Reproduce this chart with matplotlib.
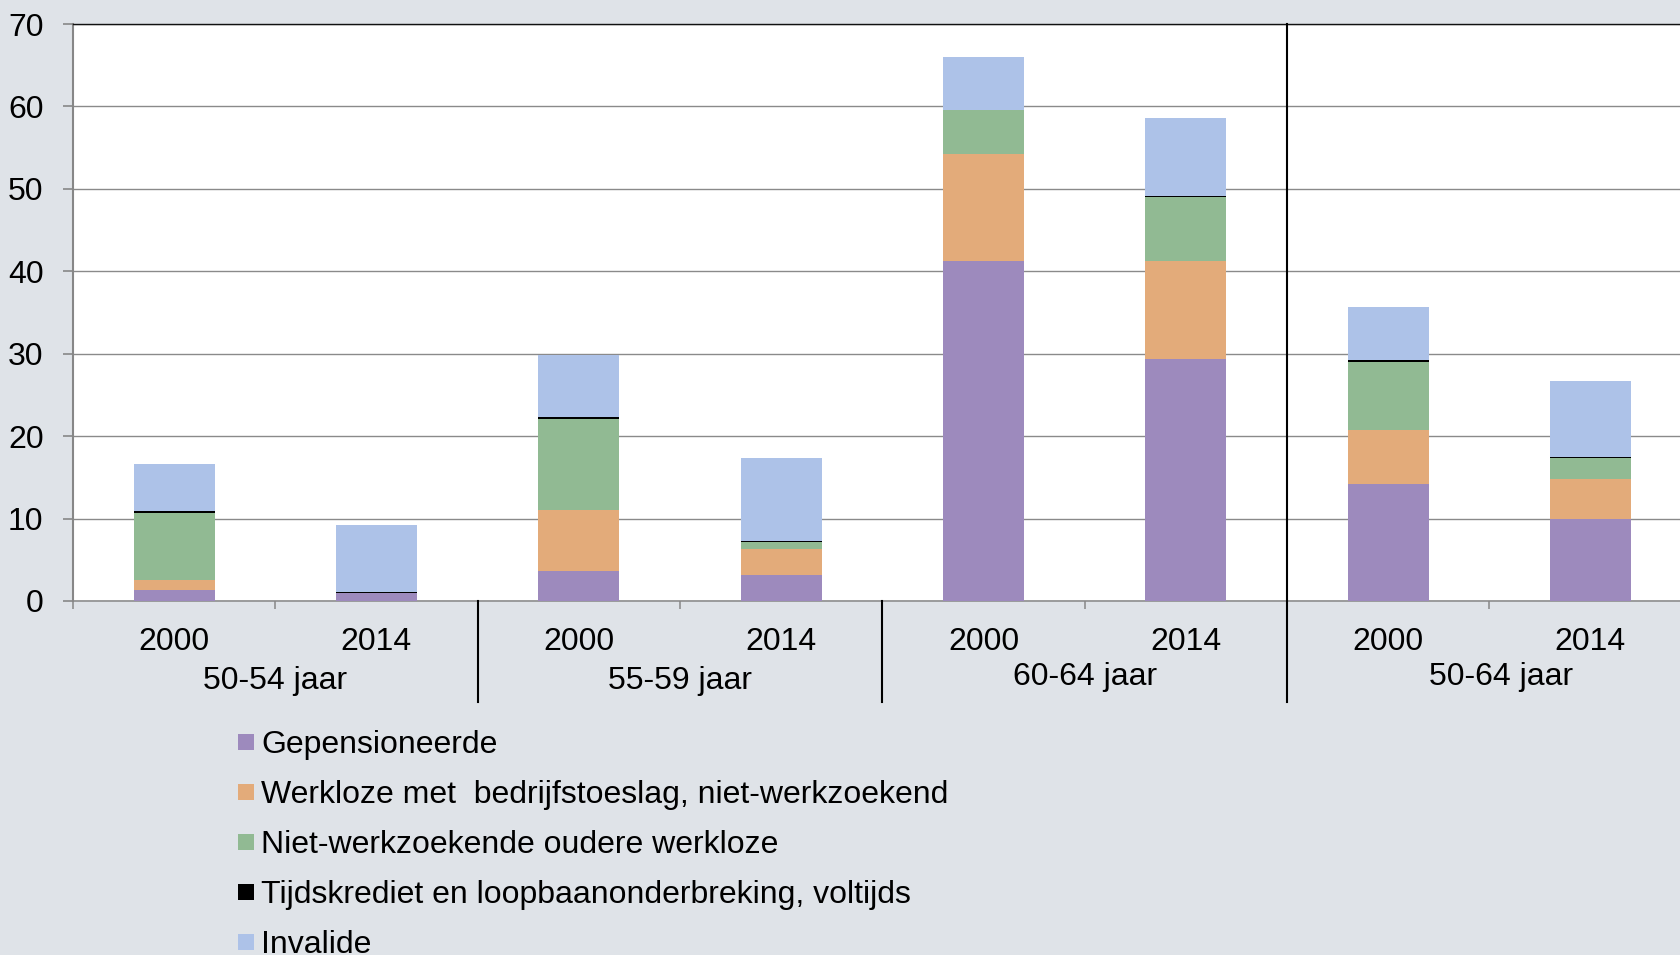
import matplotlib
matplotlib.use("Agg")
import matplotlib.pyplot as plt
from matplotlib.patches import Rectangle
from matplotlib.lines import Line2D
from matplotlib.transforms import blended_transform_factory
import numpy as np

plt.rcParams['font.family'] = ['Liberation Sans', 'DejaVu Sans']

# ---- data ----
groups = ["50-54 jaar", "55-59 jaar", "60-64 jaar", "50-64 jaar"]
years = ["2000", "2014"]
series_names = [
    "Gepensioneerde",
    "Werkloze met  bedrijfstoeslag, niet-werkzoekend",
    "Niet-werkzoekende oudere werkloze",
    "Tijdskrediet en loopbaanonderbreking, voltijds",
    "Invalide",
]
gepensioneerde = [1.3, 0.95, 3.7, 3.2, 41.3, 29.3, 14.2, 10.0]
werkloze_bedrijfstoeslag = [1.3, 0.0, 7.3, 3.15, 12.9, 11.9, 6.6, 4.75]
niet_werkzoekend = [8.1, 0.0, 11.1, 0.75, 5.4, 7.85, 8.25, 2.6]
tijdskrediet = [0.25, 0.2, 0.25, 0.2, 0.0, 0.08, 0.2, 0.1]
invalide = [5.65, 8.1, 7.5, 10.05, 6.35, 9.45, 6.45, 9.2]
yticks = [0, 10, 20, 30, 40, 50, 60, 70]

series = [gepensioneerde, werkloze_bedrijfstoeslag, niet_werkzoekend, tijdskrediet, invalide]
colors = ["#9D8ABD", "#E3AB7A", "#91BA93", "#000000", "#ADC2E8"]
bg = "#DFE3E8"
FS = 23

W, H = 1680, 955
fig = plt.figure(figsize=(W / 100, H / 100), dpi=100, facecolor=bg)

ax_left, ax_right, ax_top, ax_bottom = 73, 1691.6, 24, 601
ax = fig.add_axes([ax_left / W, 1 - ax_bottom / H, (ax_right - ax_left) / W, (ax_bottom - ax_top) / H])
ax.set_facecolor("white")

n = len(gepensioneerde)
x = np.arange(n) + 0.5
bottom = np.zeros(n)
for vals, c in zip(series, colors):
    ax.bar(x, vals, width=0.4, bottom=bottom, color=c, edgecolor="none", zorder=3)
    bottom += np.array(vals)

ax.set_xlim(0, n)
ax.set_ylim(0, 70)
ax.set_yticks(yticks)
ax.set_yticklabels([str(v) for v in yticks], fontsize=FS)
ax.yaxis.grid(True, color="#8A8A8A", linewidth=1.0, zorder=1)
ax.set_axisbelow(True)

ax.spines['left'].set_color("#878787")
ax.spines['left'].set_linewidth(1.5)
ax.spines['bottom'].set_color("#878787")
ax.spines['bottom'].set_linewidth(1.1)
ax.spines['top'].set_color("#111111")
ax.spines['top'].set_linewidth(1.0)
ax.spines['right'].set_visible(False)
ax.tick_params(axis='y', length=7.2, width=1.2, color="#878787", pad=14, labelcolor="black")

# x axis: ticks at slot boundaries, labels drawn as text
ax.set_xticks(np.arange(0, n + 1))
ax.set_xticklabels([])
ax.tick_params(axis='x', length=6, width=1.1, color="#878787", direction='out')

trans = blended_transform_factory(ax.transData, fig.transFigure)
# year labels
for i in range(n):
    ax.text(x[i], 1 - 650 / H, years[i % 2], transform=trans, ha='center', va='baseline',
            fontsize=FS, color='black', clip_on=False)
# group labels
grp_base = [689, 689, 685, 685]
grp_x = [1.0, 3.0, 5.0, 7.06]
for g, name in enumerate(groups):
    ax.text(grp_x[g], 1 - grp_base[g] / H, name, transform=trans, ha='center', va='baseline',
            fontsize=FS, color='black', clip_on=False)

# group separators
for s in [2, 4]:
    ax.add_line(Line2D([s, s], [1 - ax_bottom / H, 1 - 702 / H], transform=trans,
                       color='black', linewidth=1.5, clip_on=False, zorder=5))
ax.add_line(Line2D([6, 6], [1 - ax_top / H, 1 - 702 / H], transform=trans,
                   color='black', linewidth=1.5, clip_on=False, zorder=5))

# legend
leg_y = [742, 792, 842, 892, 942]
for name, c, yy in zip(series_names, colors, leg_y):
    fig.add_artist(Rectangle((238 / W, 1 - (yy + 8) / H), 16 / W, 16 / H,
                             transform=fig.transFigure, facecolor=c, edgecolor='none'))
    fig.text(261 / W, 1 - (yy - 1) / H, name, ha='left', va='center_baseline', fontsize=FS, color='black')

fig.savefig("out.png", dpi=100, facecolor=bg)
